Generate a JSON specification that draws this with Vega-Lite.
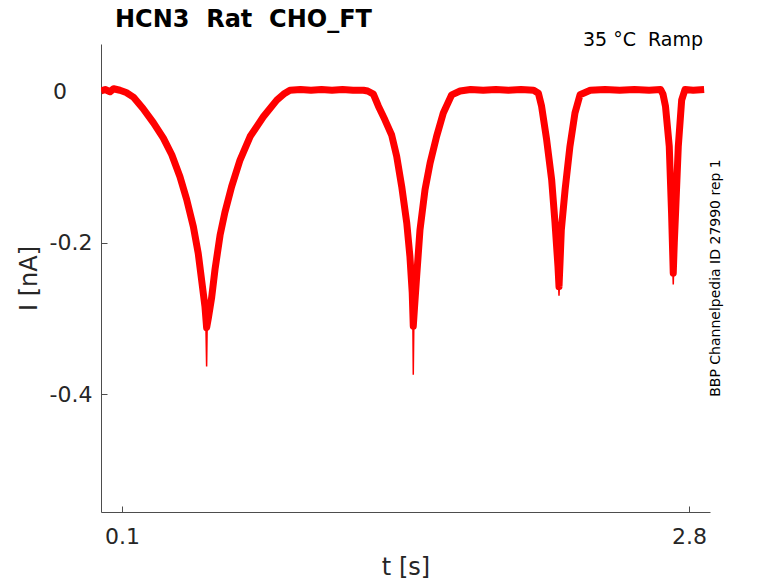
{
  "$schema": "https://vega.github.io/schema/vega-lite/v6.json",
  "width": 609,
  "height": 468,
  "autosize": {"type": "none"},
  "padding": {"left": 101, "top": 44, "right": 68, "bottom": 71},
  "background": "white",
  "config": {
    "view": {"stroke": null},
    "font": "DejaVu Sans"
  },
  "datasets": {
    "trace": [
      {"t": 0.0, "I": 0.0},
      {"t": 0.02, "I": 0.002},
      {"t": 0.043, "I": -0.001},
      {"t": 0.06, "I": 0.003},
      {"t": 0.09, "I": 0.001},
      {"t": 0.12, "I": -0.002},
      {"t": 0.154, "I": -0.008},
      {"t": 0.2, "I": -0.023},
      {"t": 0.25, "I": -0.042},
      {"t": 0.297, "I": -0.062},
      {"t": 0.337, "I": -0.084},
      {"t": 0.376, "I": -0.113},
      {"t": 0.408, "I": -0.143},
      {"t": 0.44, "I": -0.179},
      {"t": 0.463, "I": -0.214},
      {"t": 0.479, "I": -0.249},
      {"t": 0.495, "I": -0.284},
      {"t": 0.503, "I": -0.312},
      {"t": 0.512, "I": -0.298},
      {"t": 0.527, "I": -0.272},
      {"t": 0.543, "I": -0.235},
      {"t": 0.567, "I": -0.19},
      {"t": 0.59, "I": -0.16},
      {"t": 0.622, "I": -0.126},
      {"t": 0.662, "I": -0.091},
      {"t": 0.71, "I": -0.06},
      {"t": 0.773, "I": -0.034},
      {"t": 0.837, "I": -0.012},
      {"t": 0.87, "I": -0.004},
      {"t": 0.9, "I": 0.001},
      {"t": 0.95, "I": 0.002},
      {"t": 1.0, "I": 0.001},
      {"t": 1.05, "I": 0.002},
      {"t": 1.1, "I": 0.001},
      {"t": 1.15, "I": 0.002},
      {"t": 1.2, "I": 0.001},
      {"t": 1.25, "I": 0.001},
      {"t": 1.27, "I": 0.0},
      {"t": 1.297, "I": -0.004},
      {"t": 1.321, "I": -0.02},
      {"t": 1.352, "I": -0.038},
      {"t": 1.384, "I": -0.058},
      {"t": 1.408, "I": -0.086},
      {"t": 1.432, "I": -0.126},
      {"t": 1.456, "I": -0.174},
      {"t": 1.471, "I": -0.218},
      {"t": 1.482, "I": -0.266},
      {"t": 1.487, "I": -0.31},
      {"t": 1.493, "I": -0.285},
      {"t": 1.503, "I": -0.245},
      {"t": 1.519, "I": -0.183},
      {"t": 1.543, "I": -0.13},
      {"t": 1.567, "I": -0.095},
      {"t": 1.598, "I": -0.06},
      {"t": 1.63, "I": -0.029},
      {"t": 1.67, "I": -0.005},
      {"t": 1.71, "I": 0.0},
      {"t": 1.76, "I": 0.002},
      {"t": 1.82, "I": 0.001},
      {"t": 1.88, "I": 0.002},
      {"t": 1.94, "I": 0.001},
      {"t": 2.0, "I": 0.002},
      {"t": 2.06, "I": 0.001},
      {"t": 2.083, "I": -0.003},
      {"t": 2.098, "I": -0.02},
      {"t": 2.122, "I": -0.064},
      {"t": 2.146, "I": -0.117},
      {"t": 2.162, "I": -0.174},
      {"t": 2.176, "I": -0.231},
      {"t": 2.181, "I": -0.258},
      {"t": 2.186, "I": -0.225},
      {"t": 2.192, "I": -0.183},
      {"t": 2.21, "I": -0.13},
      {"t": 2.233, "I": -0.073},
      {"t": 2.257, "I": -0.029},
      {"t": 2.281, "I": -0.005},
      {"t": 2.33, "I": 0.001},
      {"t": 2.4, "I": 0.002},
      {"t": 2.47, "I": 0.001},
      {"t": 2.54, "I": 0.002},
      {"t": 2.61, "I": 0.001},
      {"t": 2.665, "I": 0.002},
      {"t": 2.676, "I": -0.004},
      {"t": 2.688, "I": -0.02},
      {"t": 2.706, "I": -0.073},
      {"t": 2.717, "I": -0.161},
      {"t": 2.725, "I": -0.24},
      {"t": 2.73, "I": -0.2},
      {"t": 2.736, "I": -0.161},
      {"t": 2.749, "I": -0.073},
      {"t": 2.765, "I": -0.012},
      {"t": 2.781, "I": 0.002},
      {"t": 2.82, "I": 0.001},
      {"t": 2.872, "I": 0.002}
    ],
    "spikes": [
      {"dip": 1, "t": 0.499, "I": -0.3},
      {"dip": 1, "t": 0.503, "I": -0.363},
      {"dip": 1, "t": 0.506, "I": -0.3},
      {"dip": 2, "t": 1.485, "I": -0.3},
      {"dip": 2, "t": 1.487, "I": -0.374},
      {"dip": 2, "t": 1.49, "I": -0.3},
      {"dip": 3, "t": 2.179, "I": -0.255},
      {"dip": 3, "t": 2.181, "I": -0.27},
      {"dip": 3, "t": 2.183, "I": -0.255},
      {"dip": 4, "t": 2.723, "I": -0.235},
      {"dip": 4, "t": 2.725, "I": -0.255},
      {"dip": 4, "t": 2.727, "I": -0.235}
    ],
    "heading": [
      {"t": 0, "I": 0.062, "label": "HCN3 \u00a0Rat \u00a0CHO_FT"}
    ],
    "notes": [
      {"t": 2.9, "I": 0.062, "label": "35 °C \u00a0Ramp"}
    ],
    "side": [
      {"t": 2.9, "I": -0.2465, "label": "BBP Channelpedia ID 27990 rep 1"}
    ]
  },
  "layer": [
    {
      "data": {"name": "trace"},
      "mark": {"type": "line", "color": "#ff0000", "strokeWidth": 7, "strokeJoin": "round", "strokeCap": "butt", "clip": true},
      "encoding": {
        "x": {
          "field": "t", "type": "quantitative",
          "scale": {"domain": [0, 2.9], "nice": false, "zero": false},
          "axis": {
            "values": [0.1, 2.8],
            "title": "t [s]",
            "format": ".1f",
            "grid": false,
            "tickSize": -6,
            "labelPadding": 20,
            "labelFontSize": 22,
            "labelFont": "DejaVu Sans",
            "labelColor": "#262626",
            "labelFlush": false,
            "titleFontSize": 24,
            "titleFont": "DejaVu Sans",
            "titleFontWeight": "normal",
            "titleColor": "#262626",
            "titlePadding": 8,
            "domainColor": "#4d4d4d",
            "tickColor": "#4d4d4d"
          }
        },
        "y": {
          "field": "I", "type": "quantitative",
          "scale": {"domain": [-0.555, 0.062], "nice": false, "zero": false},
          "axis": {
            "values": [0, -0.2, -0.4],
            "title": "I [nA]",
            "labelExpr": "datum.value === 0 ? '0\u2007\u00a0\u2009\u200b' : '-' + format(-datum.value, '.1f')",
            "grid": false,
            "tickSize": -6,
            "labelPadding": 15,
            "labelFontSize": 22,
            "labelFont": "DejaVu Sans",
            "labelColor": "#262626",
            "labelFlush": false,
            "titleFontSize": 24,
            "titleFont": "DejaVu Sans",
            "titleFontWeight": "normal",
            "titleColor": "#262626",
            "titlePadding": 8,
            "domainColor": "#4d4d4d",
            "tickColor": "#4d4d4d"
          }
        }
      }
    },
    {
      "data": {"name": "spikes"},
      "mark": {"type": "line", "color": "#ff0000", "strokeWidth": 1.5, "clip": true},
      "encoding": {
        "x": {"field": "t", "type": "quantitative"},
        "y": {"field": "I", "type": "quantitative"},
        "detail": {"field": "dip", "type": "nominal"}
      }
    },
    {
      "data": {"name": "heading"},
      "mark": {"type": "text", "align": "left", "baseline": "alphabetic", "dx": 14, "dy": -17, "fontSize": 24, "fontWeight": "bold", "font": "DejaVu Sans", "color": "#000000"},
      "encoding": {
        "x": {"field": "t", "type": "quantitative"},
        "y": {"field": "I", "type": "quantitative"},
        "text": {"field": "label"}
      }
    },
    {
      "data": {"name": "notes"},
      "mark": {"type": "text", "align": "right", "baseline": "alphabetic", "dx": -7, "dy": 2, "fontSize": 19, "font": "DejaVu Sans", "color": "#000000"},
      "encoding": {
        "x": {"field": "t", "type": "quantitative"},
        "y": {"field": "I", "type": "quantitative"},
        "text": {"field": "label"}
      }
    },
    {
      "data": {"name": "side"},
      "mark": {"type": "text", "align": "center", "baseline": "middle", "angle": 270, "dy": 6, "fontSize": 14, "font": "DejaVu Sans", "color": "#000000"},
      "encoding": {
        "x": {"field": "t", "type": "quantitative"},
        "y": {"field": "I", "type": "quantitative"},
        "text": {"field": "label"}
      }
    }
  ]
}
